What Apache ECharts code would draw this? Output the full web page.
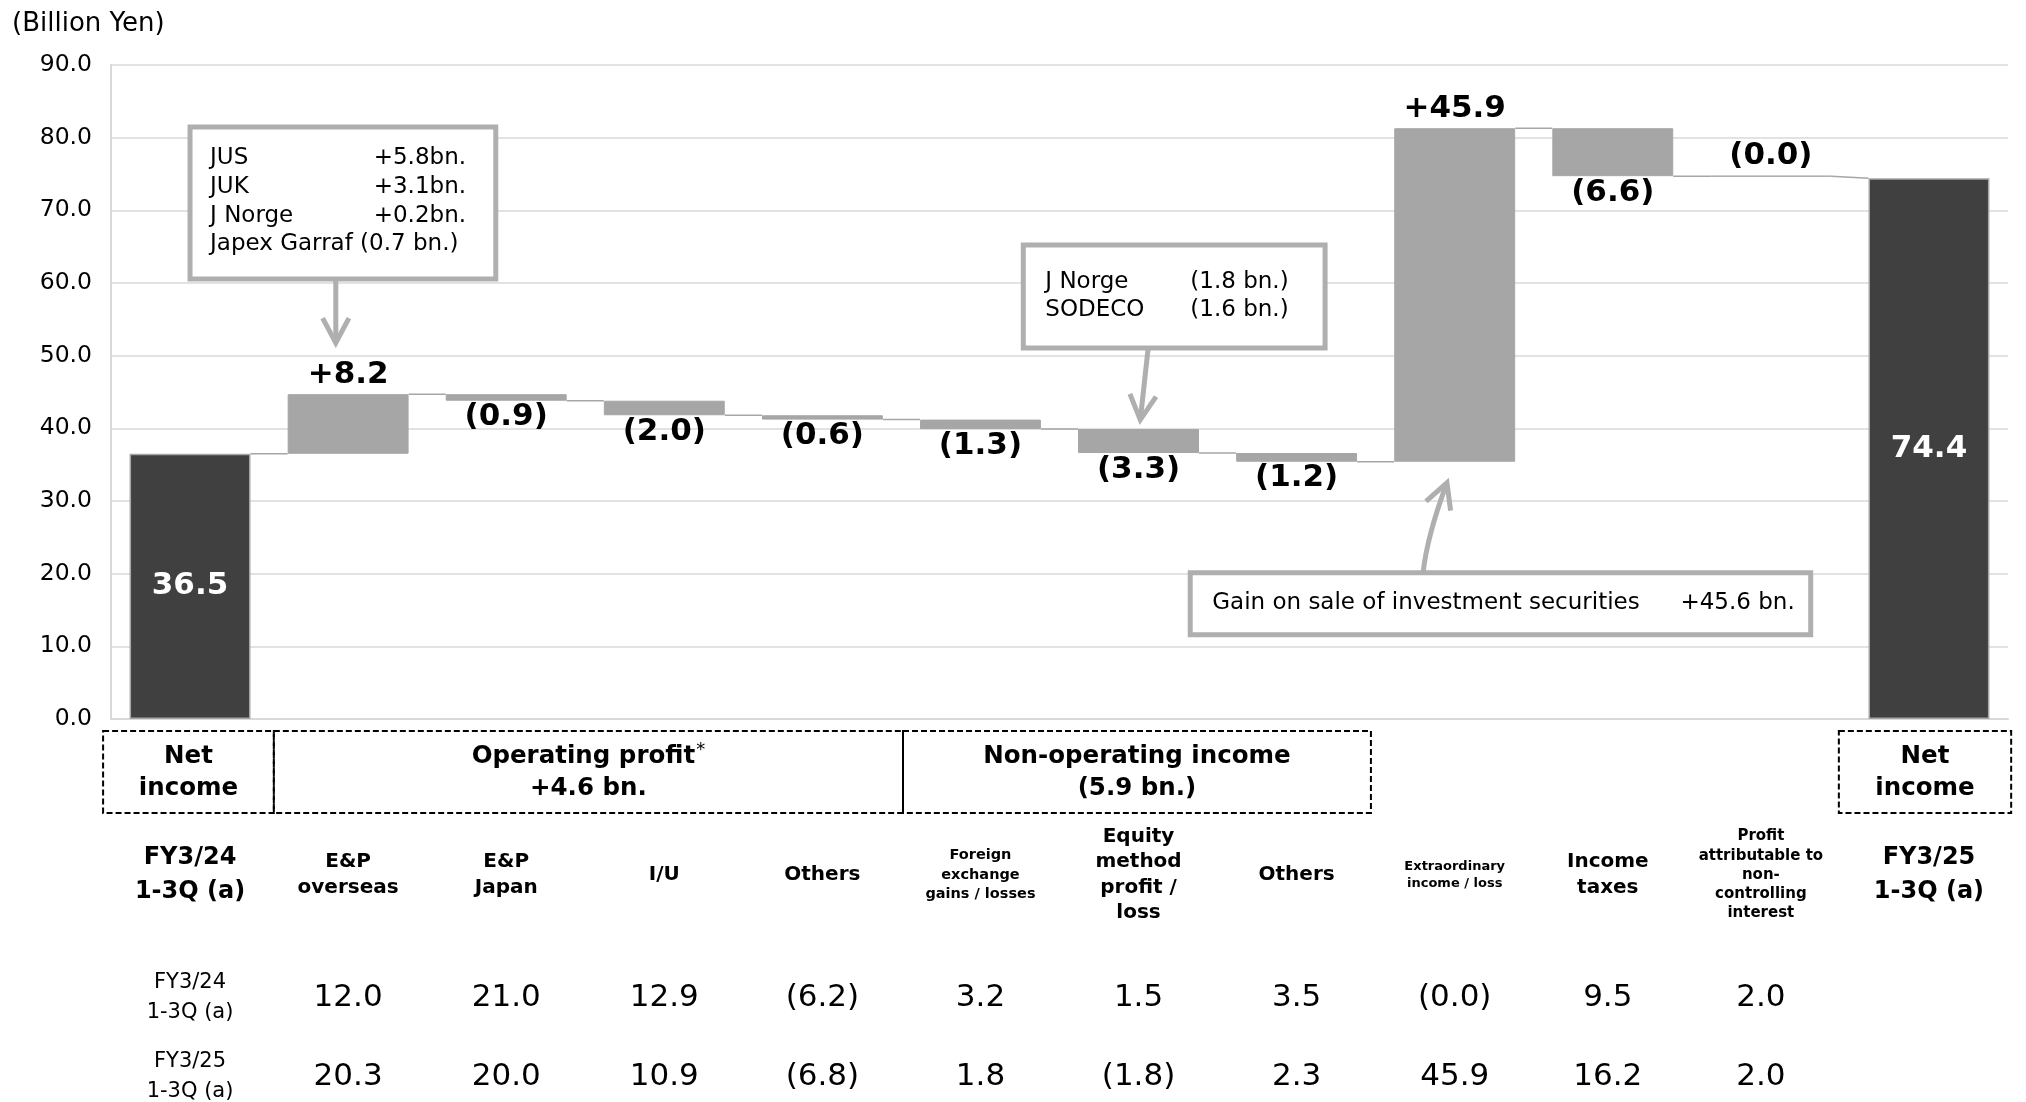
<!DOCTYPE html>
<html>
<head>
<meta charset="utf-8">
<script src="https://cdn.jsdelivr.net/npm/echarts@6/dist/echarts.min.js"></script>
<style>
  html, body { margin: 0; padding: 0; background: #fff; }
  #chart { width: 2026px; height: 1102px; }
</style>
</head>
<body>
<div id="chart"></div>
<script>
// --- data -------------------------------------------------------------
const categories = [
  "FY3/24\n1-3Q (a)",
  "E&P\noverseas",
  "E&P\nJapan",
  "I/U",
  "Others",
  "Foreign\nexchange\ngains / losses",
  "Equity\nmethod\nprofit /\nloss",
  "Others",
  "Extraordinary\nincome / loss",
  "Income\ntaxes",
  "Profit\nattributable to\nnon-\ncontrolling\ninterest",
  "FY3/25\n1-3Q (a)",
];
const startTotal = 36.5;
const endTotal = 74.4;
const deltas = [8.2, -0.9, -2.0, -0.6, -1.3, -3.3, -1.2, 45.9, -6.6, -0.0];

const rowNames = ["FY3/24\n1-3Q (a)", "FY3/25\n1-3Q (a)"];
const fy24Values = [12.0, 21.0, 12.9, -6.2, 3.2, 1.5, 3.5, -0.0, 9.5, 2.0];
const fy25Values = [20.3, 20.0, 10.9, -6.8, 1.8, -1.8, 2.3, 45.9, 16.2, 2.0];

const groupLabels = [
  "{b|Net}\n{b|income}",
  "{b|Operating profit}{sup|*}\n{b|+4.6 bn.}",
  "{b|Non-operating income}\n{b|(5.9 bn.)}",
  "{b|Net}\n{b|income}",
];
const groupSpans = [[0, 0], [1, 4], [5, 7], [11, 11]];

const note1Names = "JUS\nJUK\nJ Norge\nJapex Garraf (0.7 bn.)";
const note1Values = "+5.8bn.\n+3.1bn.\n+0.2bn.";
const note2Names = "J Norge\nSODECO";
const note2Values = "(1.8 bn.)\n(1.6 bn.)";
const note3Name = "Gain on sale of investment securities";
const note3Value = "+45.6 bn.";

const yMin = 0, yMax = 90, yStep = 10;

// --- helpers ----------------------------------------------------------
const FONT = '"DejaVu Sans", Verdana, sans-serif';
const DARK = "#404040";
const GREY = "#a6a6a6";
const NOTE_GREY = "#afafaf";
const BAR_RATIO = 0.765;

const isNeg = (v) => v < 0 || Object.is(v, -0);
const fmt = (v) => (isNeg(v) ? `(${Math.abs(v).toFixed(1)})` : v.toFixed(1));
const fmtDelta = (v) =>
  isNeg(v) ? `(${Math.abs(v).toFixed(1)})` : `+${v.toFixed(1)}`;

// waterfall: invisible base + visible part, plus connector levels
const baseData = [0];
const barData = [startTotal];
const connectors = [];
let run = startTotal;
deltas.forEach((d, k) => {
  const next = run + d;
  connectors.push([k, run, run]);
  baseData.push(Math.min(run, next));
  barData.push(Math.abs(d));
  run = next;
});
connectors.push([deltas.length, run, endTotal]);
baseData.push(0);
barData.push(endTotal);

const lastIdx = categories.length - 1;
const barItems = barData.map((v, i) => {
  const total = i === 0 || i === lastIdx;
  if (total) {
    return {
      value: v,
      itemStyle: { color: DARK, borderColor: GREY, borderWidth: 1.5 },
      label: { position: "inside", color: "#fff" },
    };
  }
  const d = deltas[i - 1];
  const below = isNeg(d) && d !== 0;
  return {
    value: v,
    itemStyle: { color: GREY, borderColor: GREY, borderWidth: 1 },
    label: { position: below ? "bottom" : "top", distance: below ? 1 : 4 },
  };
});

const barLabelText = (i) => {
  if (i === 0) return startTotal.toFixed(1);
  if (i === lastIdx) return endTotal.toFixed(1);
  return fmtDelta(deltas[i - 1]);
};

// table columns 9 and 10 sit a little left of their bars in the original
const shiftOf = (i) => (i === 9 ? "A" : i === 10 ? "B" : "");

// header label style per column
const headerStyles = ["big", "mid", "mid", "mid", "mid", "small", "mid", "mid", "tiny", "midA", "smallB", "big"];

const rowAxis = (name, values, margin) => ({
  type: "category",
  position: "bottom",
  gridIndex: 0,
  offset: 0,
  data: [name, ...values.map(fmt), ""],
  axisLine: { show: false },
  axisTick: { show: false },
  splitLine: { show: false },
  axisLabel: {
    interval: 0,
    margin: margin,
    verticalAlign: "middle",
    formatter: (v, i) => (i === 0 ? `{name|${v}}` : `{val${shiftOf(i)}|${v}}`),
    rich: {
      name: { fontFamily: FONT, fontSize: 21, lineHeight: 30, color: "#000", align: "center" },
      val: { fontFamily: FONT, fontSize: 31, lineHeight: 36, color: "#000" },
      valA: { fontFamily: FONT, fontSize: 31, lineHeight: 36, color: "#000", padding: [0, 10, 0, 0] },
      valB: { fontFamily: FONT, fontSize: 31, lineHeight: 36, color: "#000", padding: [0, 20, 0, 0] },
    },
  },
});

const headText = (size, lh, pad) => ({
  fontFamily: FONT, fontSize: size, fontWeight: "bold", lineHeight: lh, color: "#000", padding: pad || 0,
});

const chartDom = document.getElementById("chart");
const chart = echarts.init(chartDom);

const option = {
  animation: false,
  backgroundColor: "#fff",
  title: {
    text: "(Billion Yen)",
    left: 7,
    top: 6,
    textStyle: { fontFamily: FONT, fontSize: 26, fontWeight: "normal", color: "#000" },
  },
  grid: { left: 111, right: 18, top: 65, bottom: 383, outerBoundsMode: "none" },
  xAxis: [
    {
      type: "category",
      position: "bottom",
      data: categories,
      axisLine: { show: true, lineStyle: { color: "#d9d9d9", width: 2 } },
      axisTick: { show: false },
      axisLabel: {
        interval: 0,
        margin: 156,
        verticalAlign: "middle",
        color: "#000",
        formatter: (v, i) => `{${headerStyles[i]}|${v}}`,
        rich: {
          big: headText(24, 34),
          mid: headText(20, 25.5),
          midA: headText(20, 25.5, [0, 10, 0, 0]),
          small: headText(14.5, 19.5),
          smallB: headText(15, 19.3, [0, 20, 0, 0]),
          tiny: headText(13, 17),
        },
      },
    },
    rowAxis(rowNames[0], fy24Values, 279),
    rowAxis(rowNames[1], fy25Values, 358),
  ],
  yAxis: {
    type: "value",
    min: yMin,
    max: yMax,
    interval: yStep,
    axisLine: { show: true, lineStyle: { color: "#d9d9d9", width: 2 } },
    axisTick: { show: false },
    splitLine: { lineStyle: { color: "#d9d9d9", width: 1.5 } },
    axisLabel: {
      formatter: (v) => v.toFixed(1),
      fontFamily: FONT,
      fontSize: 23.5,
      color: "#000",
      margin: 19,
    },
  },
  series: [
    {
      name: "base",
      type: "bar",
      stack: "w",
      barWidth: BAR_RATIO * 100 + "%",
      silent: true,
      itemStyle: { color: "transparent" },
      data: baseData,
    },
    {
      name: "change",
      type: "bar",
      stack: "w",
      barWidth: BAR_RATIO * 100 + "%",
      silent: true,
      label: {
        show: true,
        fontFamily: FONT,
        fontWeight: "bold",
        fontSize: 31,
        color: "#000",
        formatter: (p) => barLabelText(p.dataIndex),
      },
      data: barItems,
    },
    {
      name: "connector",
      type: "custom",
      silent: true,
      z: 1,
      encode: { x: 0, y: [1, 2] },
      data: connectors,
      renderItem: (params, api) => {
        const i = api.value(0);
        const a = api.coord([i, api.value(1)]);
        const b = api.coord([i + 1, api.value(2)]);
        const half = (api.size([1, 0])[0] * BAR_RATIO) / 2;
        return {
          type: "line",
          shape: { x1: a[0] + half, y1: a[1], x2: b[0] - half, y2: b[1] },
          style: { stroke: GREY, lineWidth: 1.5 },
        };
      },
    },
  ],
};

chart.setOption(option);

// --- annotations (boxes, callouts) placed from the axes --------------
function buildGraphics() {
  const c0 = chart.convertToPixel({ xAxisIndex: 0 }, 0);
  const c1 = chart.convertToPixel({ xAxisIndex: 0 }, 1);
  const band = c1 - c0;
  const X = (i) => c0 + i * band;
  const Y = (v) => chart.convertToPixel({ yAxisIndex: 0 }, v);
  const axisY = Y(0);
  const g = [];

  // dashed group boxes under the axis
  const boxEdges = [[-0.55, 0.53], [0.53, 4.51], [4.51, 7.47], [10.43, 11.52]];
  groupSpans.forEach((span, k) => {
    const [l, r] = boxEdges[k];
    const x1 = X(l), x2 = X(r);
    g.push({
      type: "rect",
      shape: { x: x1, y: axisY + 12, width: x2 - x1, height: 82 },
      style: { fill: "none", stroke: "#000", lineWidth: 2, lineDash: [6, 3] },
    });
    g.push({
      type: "text",
      x: (x1 + x2) / 2,
      y: axisY + 54,
      style: {
        text: groupLabels[k],
        align: "center",
        verticalAlign: "middle",
        fill: "#000",
        rich: {
          b: { fontFamily: FONT, fontSize: 24.5, fontWeight: "bold", lineHeight: 32, fill: "#000" },
          sup: { fontFamily: FONT, fontSize: 18, lineHeight: 32, verticalAlign: "top", padding: [0, 0, 10, 1], fill: "#000" },
        },
      },
    });
  });

  const noteBox = (l, r, t, b) => {
    const x1 = X(l), x2 = X(r), y1 = Y(t), y2 = Y(b);
    g.push({
      type: "rect",
      z: 20,
      shape: { x: x1, y: y1, width: x2 - x1, height: y2 - y1 },
      style: { fill: "#fff", stroke: NOTE_GREY, lineWidth: 5 },
    });
    return { x1, x2, y1, y2 };
  };

  const noteText = (x, y, text, align, lineHeight) =>
    g.push({
      type: "text",
      z: 21,
      x,
      y,
      style: {
        text,
        align,
        verticalAlign: "top",
        fontFamily: FONT,
        fontSize: 23,
        lineHeight,
        fill: "#000",
      },
    });

  const arrowHead = (from, tip) => {
    const dx = tip[0] - from[0], dy = tip[1] - from[1];
    const len = Math.hypot(dx, dy);
    const ux = dx / len, uy = dy / len;
    const a = (28 * Math.PI) / 180, L = 28;
    const rot = (ang) => [
      tip[0] - L * (ux * Math.cos(ang) - uy * Math.sin(ang)),
      tip[1] - L * (ux * Math.sin(ang) + uy * Math.cos(ang)),
    ];
    g.push({
      type: "polyline",
      z: 21,
      shape: { points: [rot(a), tip, rot(-a)] },
      style: { stroke: NOTE_GREY, lineWidth: 5, fill: null },
    });
  };

  const straightArrow = (from, tip) => {
    g.push({
      type: "line",
      z: 21,
      shape: { x1: from[0], y1: from[1], x2: tip[0], y2: tip[1] },
      style: { stroke: NOTE_GREY, lineWidth: 5 },
    });
    arrowHead(from, tip);
  };

  // callout 1: E&P overseas breakdown
  const b1 = noteBox(0, 1.934, 81.47, 60.56);
  noteText(b1.x1 + 20, b1.y1 + 17, note1Names, "left", 28.7);
  noteText(b1.x1 + 276, b1.y1 + 17, note1Values, "right", 28.7);
  straightArrow([X(0.922), b1.y2], [X(0.922), Y(51.76)]);

  // callout 2: equity method breakdown
  const b2 = noteBox(5.271, 7.18, 65.24, 51.07);
  noteText(b2.x1 + 22, b2.y1 + 23, note2Names, "left", 28);
  noteText(b2.x1 + 167, b2.y1 + 23, note2Values, "left", 28);
  straightArrow([X(6.061), b2.y2], [X(6.011), Y(41.17)]);

  // callout 3: extraordinary income
  const b3 = noteBox(6.327, 10.252, 20.12, 11.6);
  noteText(b3.x1 + 22, b3.y1 + 16, note3Name, "left", 28);
  noteText(b3.x2 - 16, b3.y1 + 16, note3Value, "right", 28);
  const from3 = [X(7.8), b3.y1];
  const tip3 = [X(7.951), Y(32.5)];
  const cp3 = [from3[0] + 4, (from3[1] + tip3[1]) / 2 + 8];
  g.push({
    type: "bezierCurve",
    z: 21,
    shape: { x1: from3[0], y1: from3[1], x2: tip3[0], y2: tip3[1], cpx1: cp3[0], cpy1: cp3[1] },
    style: { stroke: NOTE_GREY, lineWidth: 5, fill: null },
  });
  arrowHead(cp3, tip3);

  chart.setOption({ graphic: g });
}

buildGraphics();
</script>
</body>
</html>
